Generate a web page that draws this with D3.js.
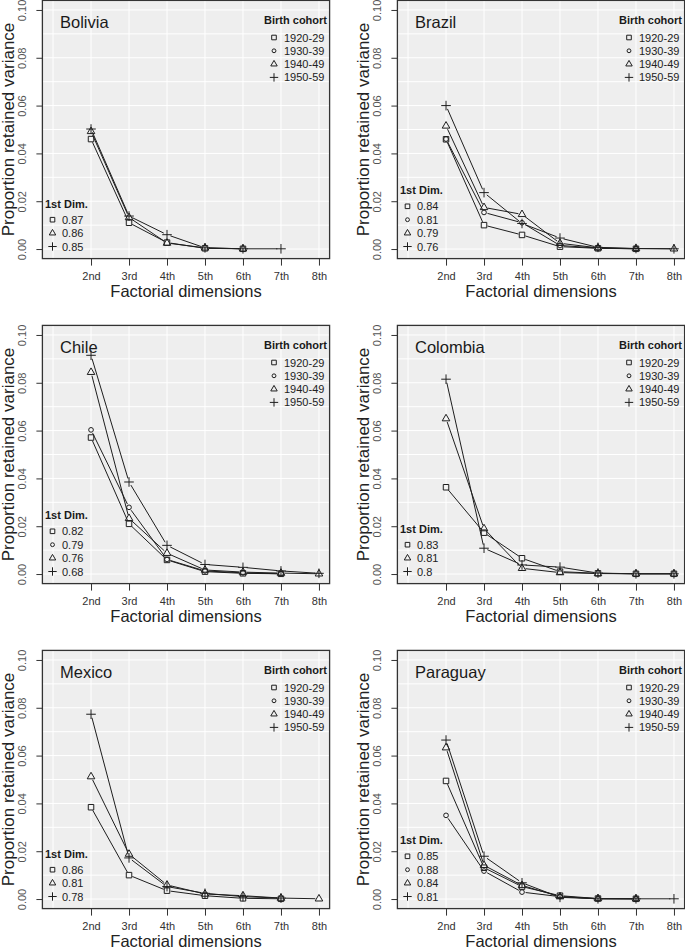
<!DOCTYPE html>
<html><head><meta charset="utf-8">
<script src="https://cdn.jsdelivr.net/npm/d3@7/dist/d3.min.js"></script>
<style>
html,body{margin:0;padding:0;background:#fff;}
svg{display:block;font-family:"Liberation Sans",Arial,Helvetica,sans-serif;}
</style></head>
<body>
<svg id="chart" width="685" height="949"></svg>
<script>
// ---- data ----
const dims = ["2nd","3rd","4th","5th","6th","7th","8th"];
const dimPos = [2,3,4,5,6,7,8];
const cohorts = ["1920-29","1930-39","1940-49","1950-59"];
const countries = ["Bolivia","Brazil","Chile","Colombia","Mexico","Paraguay"];
const yTicks = [0,0.02,0.04,0.06,0.08,0.10];

// series per country: [1920-29, 1930-39, 1940-49, 1950-59]; null = not present
const bolivia = [
  [0.0460,0.0110,0.0027,0.0003,0.0001,null,null],
  null,
  [0.0492,0.0132,0.0025,0.0005,0.0001,null,null],
  [0.0502,0.0138,0.0060,0.0005,0.0001,0.0001,null]
];
const brazil = [
  [0.0459,0.0100,0.0059,0.0010,0.0003,0.0001,null],
  [0.0460,0.0153,0.0110,0.0015,0.0004,0.0001,null],
  [0.0515,0.0174,0.0145,0.0024,0.0005,0.0002,0.0001],
  [0.0600,0.0236,0.0107,0.0046,0.0007,0.0002,0.0001]
];
const chile = [
  [0.0571,0.0210,0.0059,0.0010,0.0003,0.0001,null],
  [0.0603,0.0279,0.0061,0.0013,0.0005,0.0001,null],
  [0.0844,0.0233,0.0087,0.0017,0.0008,0.0004,0.0001],
  [0.0915,0.0385,0.0120,0.0040,0.0028,0.0013,0.0003]
];
const colombia = [
  [0.0363,0.0173,0.0066,0.0010,0.0003,0.0001,0.0001],
  null,
  [0.0650,0.0190,0.0024,0.0006,0.0002,0.0001,0.0001],
  [0.0815,0.0108,0.0038,0.0029,0.0004,0.0001,0.0001]
];
const mexico = [
  [0.0384,0.0100,0.0035,0.0014,0.0003,0.0001,null],
  null,
  [0.0512,0.0188,0.0059,0.0021,0.0014,0.0004,0.0001],
  [0.0773,0.0172,0.0052,0.0024,0.0010,0.0004,null]
];
const paraguay = [
  [0.0494,0.0131,0.0052,0.0014,0.0002,0.0001,null],
  [0.0350,0.0117,0.0029,0.0010,0.0001,0.0001,null],
  [0.0633,0.0141,0.0057,0.0010,0.0002,0.0001,null],
  [0.0665,0.0179,0.0068,0.0007,0.0001,0.0001,0.0001]
];
// first dimension proportions per cohort (null = cohort absent)
const firstDimBolivia  = [0.87,null,0.86,0.85];
const firstDimBrazil   = [0.84,0.81,0.79,0.76];
const firstDimChile    = [0.82,0.79,0.76,0.68];
const firstDimColombia = [0.83,null,0.81,0.8];
const firstDimMexico   = [0.86,null,0.81,0.78];
const firstDimParaguay = [0.85,0.88,0.84,0.81];

const seriesData = [bolivia,brazil,chile,colombia,mexico,paraguay];
const firstDims = [firstDimBolivia,firstDimBrazil,firstDimChile,firstDimColombia,firstDimMexico,firstDimParaguay];

// ---- drawing ----
const svg = d3.select("#chart");
const INK = "#1e1e1e";
const BG = "#eeeeee";
const COLW = 355, ROWH = 325;

function shapePath(type, s){
  const h = s/2;
  if(type===0) return `M${-h},${-h}H${h}V${h}H${-h}Z`;
  if(type===1){ const r=s*0.42; return `M${r},0A${r},${r} 0 1,1 ${-r},0A${r},${r} 0 1,1 ${r},0Z`; }
  if(type===2){ const t=s*1.15/2; return `M0,${-t*1.15}L${t},${t*0.58}L${-t},${t*0.58}Z`; }
  const p=s*0.75; return `M${-p},0H${p}M0,${-p}V${p}`;
}
const markSize = [5.5,5.6,6.6,6.4];
const legSize  = [4.6,4.6,5.6,5.6];

countries.forEach((name, ci) => {
  const col = ci % 2, row = Math.floor(ci / 2);
  const ox = col*COLW, oy = row*ROWH;
  const x = d3.scaleLinear().domain([0.72,8.28]).range([ox+42.4, ox+329.6]);
  const y = d3.scaleLinear().domain([-0.004,0.104]).range([oy+258.6, oy+0.4]);
  const g = svg.append("g");

  g.append("rect").attr("x",x(0.72)).attr("y",y(0.104))
    .attr("width",x(8.28)-x(0.72)).attr("height",y(-0.004)-y(0.104)).attr("fill",BG);
  const grid = g.append("g").attr("stroke","#ffffff").attr("stroke-width",1);
  d3.range(1,9).forEach(v => grid.append("line").attr("x1",x(v)).attr("x2",x(v)).attr("y1",y(0.104)).attr("y2",y(-0.004)));
  d3.range(0,11).forEach(k => { const v=k/100; grid.append("line").attr("x1",x(0.72)).attr("x2",x(8.28)).attr("y1",y(v)).attr("y2",y(v)); });

  const ya = g.append("g").attr("transform",`translate(${x(0.72)},0)`)
    .call(d3.axisLeft(y).tickValues(yTicks).tickFormat(d3.format(".2f")).tickSize(6));
  ya.select(".domain").remove();
  ya.selectAll(".tick line").attr("stroke","#333").attr("stroke-width",1);
  ya.selectAll(".tick text").attr("transform","rotate(-90)").attr("x",0).attr("y",-16).attr("dy",0)
    .attr("text-anchor","middle").attr("fill","#555").style("font-size","11px")
    .style("font-family","'Liberation Sans',Arial,sans-serif");

  const xa = g.append("g").attr("transform",`translate(0,${y(-0.004)})`)
    .call(d3.axisBottom(x).tickValues(dimPos).tickFormat((d,i)=>dims[i]).tickSize(7));
  xa.select(".domain").remove();
  xa.selectAll(".tick line").attr("stroke","#333").attr("stroke-width",1);
  xa.selectAll(".tick text").attr("y",21.5).attr("dy",0).attr("fill","#333").style("font-size","11px")
    .style("font-family","'Liberation Sans',Arial,sans-serif");

  g.append("rect").attr("x",x(0.72)).attr("y",y(0.104))
    .attr("width",x(8.28)-x(0.72)).attr("height",y(-0.004)-y(0.104))
    .attr("fill","none").attr("stroke","#333").attr("stroke-width",1.3);

  g.append("text").attr("x",(x(0.72)+x(8.28))/2).attr("y",oy+297).attr("text-anchor","middle")
    .attr("fill","#222").style("font-size","16.5px").text("Factorial dimensions");
  g.append("text").attr("transform",`translate(${ox+14},${(y(0.104)+y(-0.004))/2}) rotate(-90)`)
    .attr("text-anchor","middle").attr("fill","#222").style("font-size","17px").text("Proportion retained variance");

  g.append("text").attr("x",ox+60).attr("y",oy+28).attr("fill","#1a1a1a").style("font-size","16.5px").text(name);

  const data = seriesData[ci];
  const gap = 3.6;
  data.forEach((vals, si) => {
    if(!vals) return;
    const pts = [];
    vals.forEach((v,k)=>{ if(v!==null) pts.push([x(dimPos[k]), y(v)]); });
    for(let k=0;k<pts.length-1;k++){
      const [x1,y1]=pts[k],[x2,y2]=pts[k+1];
      const L=Math.hypot(x2-x1,y2-y1);
      if(L<=2*gap) continue;
      const ux=(x2-x1)/L, uy=(y2-y1)/L;
      g.append("line").attr("x1",x1+ux*gap).attr("y1",y1+uy*gap).attr("x2",x2-ux*gap).attr("y2",y2-uy*gap)
        .attr("stroke",INK).attr("stroke-width",1);
    }
    pts.forEach(p => g.append("path").attr("d",shapePath(si,markSize[si]))
      .attr("transform",`translate(${p[0]},${p[1]})`).attr("fill","none").attr("stroke",INK).attr("stroke-width",1));
  });

  g.append("text").attr("x",ox+327).attr("y",oy+24).attr("text-anchor","end").attr("fill","#1a1a1a")
    .style("font-size","11px").style("font-weight","bold").text("Birth cohort");
  cohorts.forEach((c,si)=>{
    const cy = oy+37.5+si*13.3;
    g.append("path").attr("d",shapePath(si,legSize[si])).attr("transform",`translate(${ox+274},${cy})`)
      .attr("fill","none").attr("stroke",INK).attr("stroke-width",1);
    g.append("text").attr("x",ox+284).attr("y",cy+4).attr("fill","#222").style("font-size","11px").text(c);
  });

  const fd = firstDims[ci];
  const present = [];
  fd.forEach((v,si)=>{ if(v!==null) present.push(si); });
  const n = present.length;
  present.forEach((si,j)=>{
    const cy = oy+246.5-(n-1-j)*13.4;
    g.append("path").attr("d",shapePath(si,legSize[si])).attr("transform",`translate(${ox+52.5},${cy})`)
      .attr("fill","none").attr("stroke",INK).attr("stroke-width",1);
    g.append("text").attr("x",ox+62).attr("y",cy+4).attr("fill","#222").style("font-size","11px").text(String(fd[si]));
  });
  const titleY = oy+246.5-(n-1)*13.4-16;
  g.append("text").attr("x",ox+45).attr("y",titleY+4).attr("fill","#1a1a1a")
    .style("font-size","11px").style("font-weight","bold").text("1st Dim.");
});
</script>
</body></html>
